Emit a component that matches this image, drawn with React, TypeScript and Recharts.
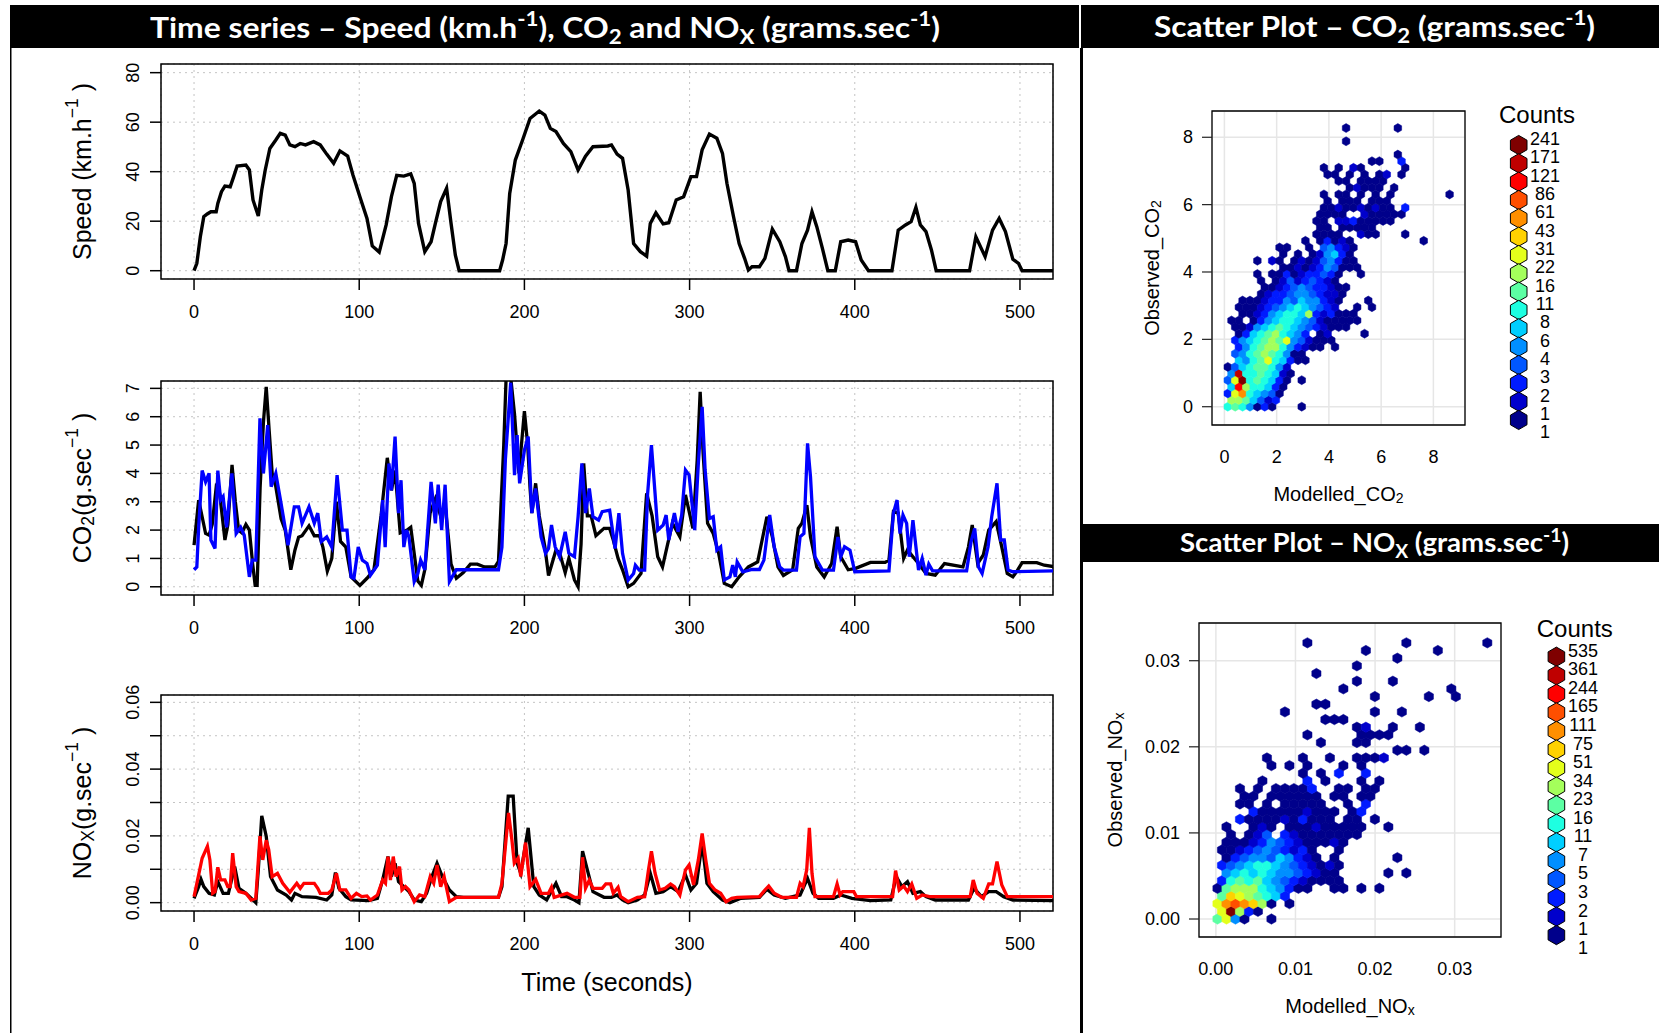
import React from 'react';
import {
  LineChart,
  Line,
  XAxis,
  YAxis,
  CartesianGrid,
  ReferenceArea,
  ScatterChart,
  Scatter,
  Legend,
} from 'recharts';

const FONT = '"Liberation Sans", Arial, Helvetica, sans-serif';
const TITLE_FONT = 'Lato, "Open Sans", sans-serif';

const PAGE_W = 1659;
const PAGE_H = 1033;
const PANEL_W = 1080;
const TS_LEFT = 161;
const TS_RIGHT = 1053;
const YAXIS_W = 60;
const XAXIS_H = 50;
const TIME_DOMAIN: [number, number] = [-20, 520];

// ---- time series axes ----
const timeTicks = [0, 100, 200, 300, 400, 500];
const speedTicks = [0, 20, 40, 60, 80];
const co2Ticks = [0, 1, 2, 3, 4, 5, 6, 7];
const noxTicks = [0, 0.01, 0.02, 0.03, 0.04, 0.05, 0.06];
const noxLabelled = [0, 0.02, 0.04, 0.06];

// [time (s), speed (km/h)]
const speed: [number, number][] = [
  [0, 0], [1.7, 3], [3.8, 13.7], [5.9, 21.8], [8, 22.9], [10.2, 23.8], [13.4, 23.8], [14.4, 27.2],
  [16.6, 31.9], [18.7, 34.2], [21.9, 33.9], [24, 38], [26.1, 42.3], [31.4, 42.7], [33.5, 40.7],
  [35.7, 28.6], [38.9, 22.1], [41, 32.6], [43.1, 40.7], [45.9, 49.4], [49.5, 52.8], [52.2, 55.5],
  [55.2, 54.8], [58, 50.8], [61.1, 50.1], [64.3, 51.4], [67.5, 50.8], [72.4, 52.1], [76.4, 50.8],
  [80.3, 47.1], [84.5, 43.4], [88.3, 48.4], [93, 46.3], [96.2, 38.7], [100.4, 29.9], [104.7, 21.1],
  [107.9, 10], [112.1, 7.5], [116.3, 18.5], [119.5, 29.9], [122.7, 38.5], [127, 38.2], [131.2, 39.1],
  [133.3, 35.3], [135.9, 19.1], [139.7, 7.7], [143.5, 11.7], [146.1, 19.1], [149.3, 27.9],
  [152.9, 33.3], [155.6, 19.1], [158.2, 6.3], [160.5, 0], [185, 0], [186.8, 4.3], [188.9, 11],
  [191.1, 31.2], [194.5, 44.7], [198.9, 52.8], [203.4, 61.5], [209, 64.5], [212.4, 62.9],
  [215.7, 57.5], [219.1, 56.2], [223.6, 51.4], [228.1, 48.1], [232.5, 40.7], [237, 46.3],
  [241.5, 50.1], [250.5, 50.4], [252.7, 50.8], [256.1, 47.1], [259.4, 45.4], [262.8, 32.6],
  [266.1, 11], [270.2, 7.7], [274, 5.9], [276.2, 19.1], [279.6, 23.4], [284, 18.9], [287.4, 19.4],
  [291.9, 28.6], [296.4, 29.9], [300.8, 38], [304.2, 38], [307.6, 48.8], [312, 55.2], [316.5, 53.5],
  [319.9, 47.4], [322.6, 35.3], [326.6, 21.8], [330, 11], [333.3, 5], [335.6, 0.3], [337.8, 1.6],
  [342.3, 1.6], [345.6, 5], [350.1, 16.8], [354.6, 11.7], [358, 5.7], [360.2, 0], [364.7, 0],
  [368, 11], [371.4, 16.4], [374.1, 23.8], [377, 17.8], [380.4, 9], [383.7, 0], [388.2, 0],
  [391.5, 11.7], [396, 12.4], [400.5, 11.7], [403.9, 4.3], [408.3, 0], [422.5, 0], [426.3, 16.4],
  [430.7, 18.5], [434.1, 19.8], [437, 25.6], [439.7, 18.5], [443.1, 15.8], [446.4, 8.4],
  [449.3, 0], [469.5, 0], [473.3, 13.7], [478.9, 5.7], [483.4, 16.4], [487.4, 21.1], [491.2, 15.8],
  [495.7, 4.6], [499.1, 3], [501.3, 0], [522, 0],
];

// [time (s), CO2 g/s] observed (black)
const co2Observed: [number, number][] = [
  [0, 1.47], [2.8, 3.06], [4.9, 2.47], [7, 1.88], [9.1, 1.82], [11, 2.2], [13.4, 3.5], [15.5, 3.3],
  [18.7, 1.65], [20.5, 2.2], [23, 4.3], [25, 3.0], [27, 2.0], [29, 1.9], [31.4, 2.2], [33.5, 2.0],
  [35.5, 0.8], [37, 0.05], [38.2, 0.05], [40, 3.5], [42, 5.8], [43.7, 7.05], [45.5, 5.5],
  [47.3, 4.0], [49.3, 3.6], [52.7, 2.4], [55.2, 2.0], [58.6, 0.6], [61.1, 1.3], [63.3, 1.75],
  [65.4, 1.8], [69.6, 2.15], [72.8, 1.8], [76, 1.8], [78, 1.4], [80.7, 0.55], [83.4, 1.0],
  [86.2, 3.0], [88.7, 1.6], [91.9, 1.4], [95.1, 0.35], [100.4, 0.05], [104.7, 0.3], [108.9, 0.6],
  [113.2, 2.5], [117, 4.55], [119.5, 3.4], [121.7, 4.1], [124.8, 1.9], [129, 2.0], [131.2, 2.1],
  [135.5, 0.2], [137.6, 0.05], [139.7, 0.6], [142.9, 2.6], [146.1, 3.1], [149.3, 2.5], [152, 2.9],
  [155.6, 0.8], [158.8, 0.3], [163, 0.5], [167.3, 0.8], [171.5, 0.8], [175.8, 0.7], [182.2, 0.7],
  [184.3, 0.9], [187.5, 5.0], [189, 7.5], [191.5, 7.5], [194, 6.1], [196.7, 4.0], [200, 6.2],
  [202, 5.0], [203.4, 3.5], [204.5, 2.6], [206.8, 3.65], [209, 2.5], [212.4, 1.4], [214.6, 0.4],
  [219.1, 1.3], [221.3, 1.2], [224.7, 0.5], [226.9, 1.0], [230.3, 0.24], [232.5, 0],
  [234.3, 1.5], [235.9, 4.35], [238.1, 2.5], [240.4, 2.5], [243.3, 1.8], [248.2, 2.06],
  [251.6, 2.06], [253.8, 1.65], [256.7, 1.0], [259.4, 0.6], [262.8, 0], [266.1, 0.12],
  [270.6, 0.47], [274, 3.3], [277.3, 2.5], [280.7, 1.06], [283.6, 0.7], [286.3, 1.4],
  [289.6, 2.24], [294.1, 1.76], [297.5, 3.24], [302, 2.06], [304.6, 4.47], [306.4, 6.88],
  [308.2, 4.7], [310.9, 2.24], [314.3, 1.88], [317.6, 1.18], [321, 0.12], [325.5, 0], [330, 0.35],
  [335.6, 0.7], [341.2, 0.88], [346.8, 2.47], [350.1, 1.76], [353.5, 0.7], [356.8, 0.4],
  [362.4, 0.6], [365.8, 2.06], [368, 2.24], [371, 2.88], [373.2, 1.76], [377, 0.7], [381.5, 0.35],
  [386, 0.82], [389.3, 2.12], [391.5, 1.06], [396, 0.6], [400.5, 0.65], [409.5, 0.86],
  [418.4, 0.86], [420.7, 0.94], [423.4, 2.65], [426.3, 2.6], [429.6, 1.0], [431.9, 1.3],
  [435.2, 1.06], [438.6, 0.82], [443.1, 0.47], [448.7, 0.41], [454.3, 0.82], [465.5, 0.7],
  [468.8, 1.4], [471.1, 2.18], [474.4, 0.82], [477.8, 1.12], [481.1, 2.0], [485.6, 2.3],
  [489, 1.4], [492.3, 0.47], [495.7, 0.35], [497.9, 0.53], [501.3, 0.85], [510.2, 0.85],
  [514.7, 0.76], [522, 0.7],
];

// [time (s), CO2 g/s] modelled (blue)
const co2Modelled: [number, number][] = [
  [0, 0.6], [1.7, 0.7], [2.8, 2.1], [4.9, 4.1], [7, 3.7], [9.1, 4.0], [10.2, 1.65], [12.7, 1.35],
  [14.4, 4.1], [16.1, 3.06], [17.6, 3.18], [19.7, 2.1], [22.9, 4.0], [25.5, 1.88], [28.2, 2.1],
  [30.4, 1.82], [33.5, 0.35], [35.2, 0.94], [37.4, 0.94], [39.9, 5.94], [42, 4.0], [44.6, 5.7],
  [46.7, 3.53], [49.5, 4.0], [52.7, 2.94], [56.9, 1.47], [60.7, 2.82], [63.3, 2.82], [65.4, 2.24],
  [69.6, 2.82], [72.8, 2.24], [74.9, 2.6], [77.1, 1.6], [80.3, 1.76], [83.4, 1.4], [86.6, 3.94],
  [89.8, 2.0], [92.6, 2.0], [95.1, 0.35], [96.8, 0.3], [99.4, 1.4], [101.9, 0.94], [104.7, 0.82],
  [106.8, 0.41], [111, 0.76], [114.2, 3.06], [115.7, 1.4], [118, 4.35], [119.5, 3.4], [121.7, 5.3],
  [123.8, 2.6], [125.3, 3.76], [127, 1.4], [128.7, 2.0], [130.1, 1.76], [133.3, 0.18],
  [135.5, 0.47], [137.2, 0.94], [139.7, 0.6], [143.5, 3.7], [146.1, 2.24], [147.8, 3.6],
  [149.9, 2.0], [152, 3.6], [154.6, 0.18], [158.8, 0.6], [165.2, 0.6], [184.3, 0.6], [186.4, 1.4],
  [188.5, 4.5], [191.7, 7.2], [194, 3.94], [195.6, 5.35], [197.1, 3.65], [200, 4.82], [202.3, 5.3],
  [204.5, 2.6], [206.8, 3.47], [210.1, 1.76], [212.8, 1.18], [214.6, 1.35], [216.4, 2.18],
  [218.6, 1.41], [221.3, 1.06], [224.7, 1.94], [226.9, 1.18], [230.3, 1.06], [232.5, 2.47],
  [234.8, 4.35], [237, 2.6], [239.3, 3.47], [241.5, 2.47], [244.9, 2.35], [247.1, 2.65],
  [251.6, 2.7], [254.9, 1.35], [257.2, 2.6], [259.4, 1.18], [262.8, 0.24], [266.1, 0.47],
  [267.2, 0.76], [269.5, 0.59], [272.8, 0.59], [274.6, 3.29], [276.9, 5.0], [279.1, 3.29],
  [280.7, 2.0], [284, 2.18], [285.8, 2.53], [287.4, 1.65], [290.8, 2.6], [293, 1.94],
  [295.2, 2.53], [297.5, 4.12], [299.7, 3.94], [303.1, 2.0], [305.3, 4.35], [307.6, 6.35],
  [309.4, 4.12], [312, 2.41], [314.3, 2.47], [316.5, 1.29], [318.8, 1.41], [321, 0.24],
  [324.4, 0.35], [326.1, 0.76], [327.7, 0.35], [328.8, 0.88], [332.2, 0.53], [337.8, 0.61],
  [342.3, 0.61], [345, 0.94], [348.5, 2.53], [351.2, 1.41], [354.6, 0.7], [356.8, 0.59],
  [364.7, 0.59], [366.9, 1.76], [369.2, 1.88], [371.4, 5.06], [373.2, 3.88], [375.9, 1.06],
  [380.4, 0.59], [387.1, 0.59], [389.8, 1.76], [391.5, 1.06], [393.8, 1.41], [397.1, 1.29],
  [400, 0.53], [420.7, 0.56], [423.4, 2.6], [425.6, 3.06], [427.4, 1.88], [429.2, 2.53],
  [431.4, 2.24], [433, 1.06], [435.2, 2.35], [438.6, 0.59], [440.8, 1.0], [443.1, 0.41],
  [444.8, 0.8], [447.1, 0.56], [467.7, 0.56], [470.4, 1.59], [472.6, 2.06], [474.9, 0.7],
  [477.1, 0.47], [480.7, 1.41], [482.9, 2.47], [486.1, 3.65], [488.3, 1.65], [490.5, 1.65],
  [492.8, 0.59], [495.7, 0.53], [522, 0.56],
];

// [time (s), NOx g/s] observed (black)
const noxObserved: [number, number][] = [
  [0, 0.0013], [2.8, 0.0048], [4.2, 0.007], [5.9, 0.0048], [9.1, 0.0028], [12.3, 0.0023],
  [14.4, 0.0063], [17.6, 0.0028], [20.8, 0.0028], [24.6, 0.0108], [27.2, 0.0043], [31.4, 0.0028],
  [35.7, 0.0008], [37.4, 0], [38.9, 0.0098], [41, 0.026], [43.7, 0.0199], [46.3, 0.0078],
  [50.5, 0.0038], [55.8, 0.0023], [59, 0.0008], [61.1, 0.0028], [65.4, 0.0018], [73.9, 0.0016],
  [80.3, 0.0008], [83.4, 0.0023], [85.6, 0.009], [87.7, 0.0043], [91.9, 0.0018], [95.1, 0.0008],
  [105.7, 0.0006], [111, 0.0013], [114.2, 0.0068], [117.4, 0.0138], [119.5, 0.0078],
  [121.7, 0.0118], [123.8, 0.0063], [127, 0.0048], [130.1, 0.0033], [133.3, 0.0008],
  [137.6, 0.0003], [140.8, 0.0028], [144, 0.0078], [147.1, 0.0118], [150.3, 0.0078],
  [154.6, 0.0038], [158.8, 0.0018], [163.1, 0.0016], [184.3, 0.0016], [186.4, 0.0048],
  [190.2, 0.0319], [193.2, 0.0319], [195.6, 0.0118], [197.8, 0.0088], [202.3, 0.0224],
  [205.7, 0.0048], [209, 0.0023], [213.5, 0.0008], [215.7, 0.0028], [219.1, 0.0058],
  [222.5, 0.0018], [225.8, 0.0018], [230.3, 0.0008], [233, 0], [235.2, 0.0154], [238.1, 0.0098],
  [241.5, 0.0033], [248.2, 0.0016], [252.7, 0.0016], [256.1, 0.0023], [259.4, 0.0008],
  [262.8, 0], [268.4, 0.0008], [272.8, 0.0023], [276.2, 0.0088], [279.6, 0.0028], [284, 0.0033],
  [288.5, 0.0048], [293, 0.0033], [297.5, 0.0083], [300.8, 0.0038], [304.2, 0.0058],
  [307.6, 0.0179], [310.5, 0.0058], [314.3, 0.0033], [319.9, 0.0008], [324.4, 0],
  [331.1, 0.0013], [342.3, 0.0016], [346.8, 0.004], [351.2, 0.0023], [358, 0.0013],
  [366.9, 0.0023], [371.4, 0.0073], [374.7, 0.0028], [378.1, 0.0013], [387.1, 0.0013],
  [391.5, 0.0023], [398.3, 0.0013], [409.5, 0.0006], [421.8, 0.0008], [425.1, 0.0078],
  [428.5, 0.0048], [431.9, 0.0063], [435.2, 0.0028], [439.7, 0.0033], [443.1, 0.0018],
  [448.7, 0.0008], [468.8, 0.0008], [472.2, 0.0043], [476.7, 0.0018], [481.1, 0.0033],
  [485.6, 0.0033], [490.1, 0.0018], [495.7, 0.0008], [522, 0.0006],
];

// [time (s), NOx g/s] modelled (red)
const noxModelled: [number, number][] = [
  [0, 0.0018], [2.8, 0.0083], [4.9, 0.0133], [8.1, 0.0169], [9.6, 0.0128], [11.3, 0.0028],
  [12.7, 0.0033], [14.4, 0.0106], [16.1, 0.0068], [18.7, 0.0068], [20.4, 0.0048], [21.9, 0.0048],
  [23.4, 0.0148], [25.5, 0.0048], [27.2, 0.0033], [31.4, 0.0028], [34.6, 0.0008], [37.4, 0.0013],
  [39.9, 0.0199], [41.6, 0.0128], [43.7, 0.0187], [45.2, 0.0159], [47.3, 0.0078], [50.5, 0.0088],
  [53.7, 0.0058], [58, 0.0031], [62.2, 0.0058], [64.3, 0.0043], [66.5, 0.0058], [72.8, 0.0058],
  [74.9, 0.0043], [76.4, 0.0028], [81.3, 0.0028], [83.4, 0.0038], [86.2, 0.0088], [88.3, 0.0038],
  [91.9, 0.0038], [95.1, 0.0013], [98.3, 0.0028], [101.5, 0.0018], [104.7, 0.002],
  [106.8, 0.0008], [111, 0.0023], [114.2, 0.0068], [115.9, 0.0058], [117.4, 0.0138],
  [118.9, 0.0068], [120.6, 0.0138], [122.3, 0.0078], [124.4, 0.0108], [125.9, 0.0038],
  [128, 0.0048], [130.1, 0.0038], [133.3, 0.0003], [136.5, 0.0023], [139.7, 0.0018],
  [143, 0.0078], [145.1, 0.0058], [147.1, 0.0113], [149.3, 0.0048], [151.4, 0.0078],
  [154.6, 0.0003], [158.8, 0.0016], [184.3, 0.0016], [186.4, 0.0058], [190.4, 0.0269],
  [192.4, 0.0189], [193.9, 0.0118], [196.2, 0.0133], [197.8, 0.0078], [200.7, 0.018],
  [203.4, 0.0048], [206.8, 0.007], [210.1, 0.0028], [214.6, 0.0028], [216.4, 0.0046],
  [218, 0.0016], [225.8, 0.0028], [230.3, 0.0016], [233.6, 0.0016], [235.2, 0.0136],
  [237, 0.0043], [239.3, 0.0068], [241.5, 0.0043], [247.1, 0.0043], [249.3, 0.0056],
  [252.2, 0.0056], [253.8, 0.0028], [256.7, 0.0046], [258.3, 0.0018], [262.8, 0.0003],
  [268.4, 0.0016], [272.8, 0.0018], [275.1, 0.0098], [276.9, 0.0154], [279.1, 0.0088],
  [281.8, 0.0038], [285.2, 0.0043], [288.5, 0.0056], [290.8, 0.0048], [294.1, 0.0023],
  [297.5, 0.0098], [299.7, 0.0113], [302.4, 0.0053], [305.3, 0.0128], [307.6, 0.0207],
  [309.8, 0.0128], [312, 0.0058], [315.4, 0.0038], [318.8, 0.0028], [322.1, 0.0003],
  [325.5, 0.0013], [328.8, 0.0016], [342.3, 0.0018], [345.6, 0.0038], [347.9, 0.005],
  [351.2, 0.0028], [355.7, 0.0016], [364.7, 0.0016], [366.9, 0.0058], [368.7, 0.0048],
  [370.9, 0.0098], [372.5, 0.0224], [374.1, 0.0088], [375.9, 0.0018], [387.1, 0.0018],
  [389.3, 0.0056], [391.1, 0.0023], [392.7, 0.0033], [399.4, 0.0033], [401, 0.0018],
  [422.9, 0.0018], [424.7, 0.0096], [426.9, 0.0038], [429.6, 0.005], [431.9, 0.0033],
  [434.5, 0.0056], [437.5, 0.0013], [440.8, 0.0023], [445.3, 0.0018], [469.9, 0.0018],
  [471.7, 0.0068], [474, 0.0028], [477.8, 0.0013], [481.1, 0.0056], [483.4, 0.0056],
  [486.1, 0.0123], [489, 0.0053], [492.3, 0.0018], [522, 0.0018],
];

// ---- hexbin scatter plots ----
// legend boundaries, top to bottom
const co2CountLabels = [241, 171, 121, 86, 61, 43, 31, 22, 16, 11, 8, 6, 4, 3, 2, 1, 1];
const noxCountLabels = [535, 361, 244, 165, 111, 75, 51, 34, 23, 16, 11, 7, 5, 3, 2, 1, 1];
const hexColors = [
  '#7f0000', '#bf0000', '#ff0000', '#ff4f00', '#ff8f00', '#ffd200', '#e4ff1b', '#a4ff5b',
  '#5cffa3', '#1effe1', '#00cfff', '#008fff', '#0057ff', '#001bff', '#0000cc', '#00008b',
];

const co2AxisTicks = [0, 2, 4, 6, 8];
const noxAxisTicks = [0, 0.01, 0.02, 0.03];

// hex grid: [row, first column, counts...] (odd rows shifted by half a column)
const co2HexRows: number[][] = [
  [0, 0, 11, 16, 11, 6, 1, 3, 1, 0, 0, 0, 1],
  [1, 0, 22, 22, 16, 8, 4, 2, 3],
  [2, 0, 3, 31, 61, 11, 8, 6, 4, 1],
  [3, 0, 8, 121, 22, 11, 11, 8, 3, 1],
  [4, 0, 4, 31, 241, 11, 16, 11, 8, 3, 1, 0, 1],
  [5, 0, 6, 171, 11, 11, 16, 11, 8, 2, 1],
  [6, 0, 1, 4, 8, 11, 16, 16, 11, 6, 2],
  [7, 0, 0, 8, 6, 11, 16, 31, 11, 8, 3, 1, 1],
  [8, 0, 0, 4, 6, 11, 16, 22, 16, 11, 6, 1, 1],
  [9, 0, 0, 3, 6, 11, 16, 22, 22, 11, 6, 3, 2, 1, 1, 0, 1],
  [10, 0, 0, 3, 6, 8, 11, 16, 22, 16, 31, 6, 4, 2, 1, 1, 1],
  [11, 0, 0, 1, 3, 8, 11, 16, 22, 11, 8, 6, 3, 0, 1, 2, 0, 0, 0, 0, 1],
  [12, 0, 0, 1, 1, 2, 6, 8, 11, 16, 11, 8, 6, 4, 3, 2, 1, 1, 1],
  [13, 0, 1, 1, 0, 1, 3, 6, 8, 11, 11, 8, 6, 4, 2, 1, 1, 1, 1, 1],
  [14, 0, 0, 0, 1, 1, 2, 3, 6, 8, 11, 11, 8, 22, 3, 2, 3, 1, 1, 1],
  [15, 0, 0, 1, 1, 1, 2, 3, 4, 6, 8, 11, 8, 6, 4, 3, 2, 0, 0, 1, 0, 1],
  [16, 0, 0, 0, 1, 1, 1, 2, 3, 3, 6, 4, 8, 6, 6, 3, 2, 1, 0, 0, 0, 1],
  [17, 4, 1, 2, 3, 3, 4, 6, 6, 4, 3, 2, 2, 1],
  [18, 5, 1, 1, 2, 3, 4, 6, 4, 3, 3, 2, 1, 1],
  [19, 4, 1, 0, 1, 2, 4, 2, 3, 4, 3, 2, 1],
  [20, 4, 1, 0, 1, 1, 3, 1, 2, 3, 3, 4, 3, 1, 0, 0, 1],
  [21, 7, 1, 1, 2, 1, 2, 3, 6, 4, 1, 1, 1],
  [22, 4, 1, 0, 2, 1, 0, 1, 2, 1, 2, 4, 6, 3, 1, 1],
  [23, 7, 1, 0, 1, 0, 1, 2, 6, 8, 3, 1],
  [24, 7, 1, 1, 0, 0, 1, 0, 4, 6, 3, 2, 1],
  [25, 10, 1, 0, 1, 3, 1, 2, 1],
  [25, 26, 1],
  [26, 12, 1, 1, 1, 1, 0, 0, 2, 1, 1],
  [26, 24, 1],
  [27, 12, 1, 1, 0, 1, 1, 1, 1, 1],
  [28, 12, 1, 1, 0, 2, 2, 3, 1, 1, 1, 1, 1],
  [29, 12, 1, 1, 1, 1, 0, 0, 2, 1, 1, 1, 1, 1],
  [30, 13, 1, 1, 2, 1, 1, 2, 1, 2, 1, 1, 0, 3],
  [31, 13, 1, 0, 1, 1, 1, 0, 1, 1, 1],
  [32, 13, 1, 0, 1, 1, 0, 1, 0, 1, 0, 1],
  [32, 30, 1],
  [33, 16, 1, 2, 1, 1, 1, 0, 1],
  [34, 15, 1, 1, 0, 1, 1, 1, 1],
  [35, 13, 1, 1, 0, 1, 0, 1, 0, 1, 2, 0, 1],
  [36, 13, 1, 0, 1, 0, 2, 1, 0, 0, 0, 0, 0, 1],
  [37, 19, 1, 1, 0, 0, 3],
  [38, 23, 1],
  [40, 16, 1],
  [42, 16, 1],
  [42, 23, 1],
];

const noxHexRows: number[][] = [
  [0, 0, 23, 51, 7, 1, 0, 0, 1],
  [1, 0, 51, 535, 34, 3, 1],
  [2, 0, 51, 111, 165, 111, 75, 34, 1, 0, 1],
  [3, 0, 23, 75, 51, 34, 23, 16, 11, 3],
  [4, 0, 1, 23, 34, 34, 34, 16, 11, 7, 3, 1, 1, 0, 0, 1, 1, 0, 1, 0, 1],
  [5, 0, 3, 16, 23, 16, 23, 11, 7, 5, 3, 2, 1, 1, 1, 1],
  [6, 0, 0, 7, 11, 16, 11, 16, 11, 7, 7, 5, 3, 2, 1, 1, 0, 0, 0, 0, 0, 1, 0, 1],
  [7, 0, 3, 5, 7, 11, 16, 16, 11, 7, 5, 3, 2, 1, 2, 1],
  [8, 0, 0, 1, 3, 5, 7, 7, 5, 11, 7, 3, 2, 1, 0, 1, 0, 0, 0, 0, 0, 0, 1],
  [9, 0, 1, 1, 2, 3, 5, 7, 5, 3, 2, 3, 1, 0, 0, 1],
  [10, 1, 1, 1, 1, 2, 3, 7, 5, 3, 2, 1, 1, 1, 2, 1],
  [11, 0, 0, 1, 0, 1, 2, 5, 0, 3, 2, 1, 1, 1, 1, 1, 1, 1],
  [12, 1, 1, 0, 0, 1, 2, 1, 0, 1, 1, 1, 2, 1, 1, 1, 1, 1, 0, 0, 1],
  [13, 2, 3, 1, 1, 1, 1, 2, 1, 3, 1, 1, 1, 0, 1, 1, 0, 1],
  [14, 4, 3, 1, 1, 1, 1, 1, 2, 1, 1, 1, 0, 1, 3],
  [15, 2, 1, 1, 0, 1, 0, 1, 1, 1, 1, 1, 0, 0, 1, 0, 3],
  [16, 3, 1, 1, 0, 1, 1, 1, 1, 1, 1, 0, 1, 1, 0, 1, 1],
  [17, 2, 1, 0, 1, 0, 1, 1, 1, 1, 3, 0, 0, 1, 1, 0, 1, 1],
  [18, 5, 1, 0, 0, 0, 0, 3, 0, 1, 0, 0, 0, 1, 0, 1],
  [19, 9, 1, 0, 1, 0, 3, 0, 0, 3],
  [20, 6, 1, 0, 1, 0, 1, 0, 0, 0, 1, 0, 1],
  [21, 5, 1, 0, 0, 0, 1, 0, 0, 1, 0, 0, 1, 1, 1, 2],
  [22, 20, 1, 1, 0, 1],
  [23, 11, 1, 0, 0, 0, 1, 1],
  [24, 10, 1, 0, 0, 0, 0, 0, 1, 1, 1, 1],
  [25, 15, 1, 2, 0, 0, 1, 0, 0, 1],
  [26, 12, 1, 1, 1],
  [27, 7, 1],
  [27, 17, 1, 0, 0, 1],
  [28, 11, 1, 1],
  [29, 17, 1],
  [29, 23, 1],
  [29, 26, 1],
  [30, 14, 1],
  [30, 26, 1],
  [31, 15, 1, 0, 0, 0, 1],
  [32, 11, 1],
  [33, 15, 1],
  [34, 20, 1],
  [35, 16, 1],
  [35, 24, 1],
  [36, 10, 1],
  [36, 21, 1],
  [36, 30, 1],
];

const toPoints = (rows: [number, number][]) => rows.map(([t, v]) => ({ t, v }));

function colorFor(count: number, labels: number[]) {
  let k = 0;
  labels.forEach((l, i) => {
    if (l >= count) k = i;
  });
  return hexColors[Math.min(k, hexColors.length - 1)];
}

function buildCells(rows: number[][], x0: number, dx: number, dy: number, labels: number[]) {
  const out: { x: number; y: number; count: number; fill: string }[] = [];
  rows.forEach(([row, start, ...counts]) => {
    counts.forEach((c, k) => {
      if (c > 0) {
        out.push({
          x: x0 + dx * (start + k + (row % 2) * 0.5),
          y: dy * row,
          count: c,
          fill: colorFor(c, labels),
        });
      }
    });
  });
  return out;
}

type Part = { t: string; s?: 'sup' | 'sub' };

function MathSpans({ parts, size }: { parts: Part[]; size: number }) {
  let shift = 0;
  return (
    <>
      {parts.map((p, i) => {
        const target = p.s === 'sup' ? -size * 0.4 : p.s === 'sub' ? size * 0.22 : 0;
        const dy = target - shift;
        shift = target;
        return (
          <tspan key={i} dy={dy} fontSize={p.s ? size * 0.7 : size}>
            {p.t}
          </tspan>
        );
      })}
    </>
  );
}

function RotatedTitle({ cx, cy, size, parts }: { cx: number; cy: number; size: number; parts: Part[] }) {
  return (
    <text
      transform={`translate(${cx},${cy}) rotate(-90)`}
      textAnchor="middle"
      dominantBaseline="central"
      fontFamily={FONT}
      fontSize={size}
      fill="#000"
    >
      <MathSpans parts={parts} size={size} />
    </text>
  );
}

// ---------------- time series panel (base R style) ----------------
type Series = { data: [number, number][]; color: string; width: number };

function TimePanel(props: {
  top: number;
  height: number;
  plotTop: number;
  plotBottom: number;
  yDomain: [number, number];
  yTicks: number[];
  yFormat: (v: number) => string;
  series: Series[];
  yTitle: Part[];
  xTitle?: string;
}) {
  const { top, height, plotTop, plotBottom, yDomain, yTicks, yFormat, series, yTitle, xTitle } = props;
  const margin = {
    top: plotTop - top,
    bottom: top + height - plotBottom - XAXIS_H,
    left: TS_LEFT - YAXIS_W,
    right: PANEL_W - TS_RIGHT,
  };
  const midY = (plotTop + plotBottom) / 2 - top;

  const xTick = (p: any) => (
    <text x={p.x} y={p.y + 20} textAnchor="middle" dominantBaseline="central" fontFamily={FONT} fontSize={18} fill="#000">
      {p.payload.value}
    </text>
  );
  const yTick = (p: any) => {
    const s = yFormat(p.payload.value);
    if (!s) return <g />;
    return (
      <text
        transform={`translate(${p.x - 15},${p.y}) rotate(-90)`}
        textAnchor="middle"
        dominantBaseline="central"
        fontFamily={FONT}
        fontSize={18}
        fill="#000"
      >
        {s}
      </text>
    );
  };

  return (
    <div style={{ position: 'absolute', left: 0, top, width: PANEL_W, height }}>
      <LineChart width={PANEL_W} height={height} margin={margin}>
        <CartesianGrid stroke="#c4c4c4" strokeDasharray="2 4" />
        <XAxis
          type="number"
          dataKey="t"
          domain={TIME_DOMAIN}
          ticks={timeTicks}
          interval={0}
          allowDataOverflow
          axisLine={false}
          tickLine={{ stroke: '#000', strokeWidth: 1.5 }}
          tickSize={11}
          tickMargin={2}
          height={XAXIS_H}
          tick={xTick}
          label={
            xTitle
              ? () => (
                  <text
                    x={(TS_LEFT + TS_RIGHT) / 2}
                    y={plotBottom - top + 71}
                    textAnchor="middle"
                    dominantBaseline="central"
                    fontFamily={FONT}
                    fontSize={25}
                    fill="#000"
                  >
                    {xTitle}
                  </text>
                )
              : undefined
          }
        />
        <YAxis
          type="number"
          domain={yDomain}
          ticks={yTicks}
          interval={0}
          allowDataOverflow
          axisLine={false}
          tickLine={{ stroke: '#000', strokeWidth: 1.5 }}
          tickSize={11}
          tickMargin={2}
          width={YAXIS_W}
          tick={yTick}
          label={() => <RotatedTitle cx={TS_LEFT - 79} cy={midY} size={25} parts={yTitle} />}
        />
        {series.map((s, i) => (
          <Line
            key={i}
            data={toPoints(s.data)}
            dataKey="v"
            type="linear"
            stroke={s.color}
            strokeWidth={s.width}
            dot={false}
            activeDot={false}
            isAnimationActive={false}
          />
        ))}
        <ReferenceArea
          x1={TIME_DOMAIN[0]}
          x2={TIME_DOMAIN[1]}
          y1={yDomain[0]}
          y2={yDomain[1]}
          fill="none"
          stroke="#000"
          strokeWidth={1.5}
        />
      </LineChart>
    </div>
  );
}

// ---------------- hexbin panel (lattice style) ----------------
function HexLegend(props: {
  labels: number[];
  hexX: number;
  hexY0: number;
  step: number;
  labelX: number;
  countsX: number;
  countsY: number;
}) {
  const { labels, hexX, hexY0, step, labelX, countsX, countsY } = props;
  const r = 9.6;
  const hw = 8.3;
  return (
    <svg width={110} height={350} style={{ display: 'block', overflow: 'visible' }}>
      <text x={countsX} y={countsY} textAnchor="middle" dominantBaseline="central" fontFamily={FONT} fontSize={24} fill="#000">
        Counts
      </text>
      {hexColors.map((c, k) => {
        const cy = hexY0 + k * step;
        const pts = [
          [0, -r], [hw, -r / 2], [hw, r / 2], [0, r], [-hw, r / 2], [-hw, -r / 2],
        ].map(([a, b]) => `${hexX + a},${cy + b}`).join(' ');
        return <polygon key={k} points={pts} fill={c} stroke="#000" strokeWidth={1} />;
      })}
      {labels.map((l, k) => (
        <text
          key={k}
          x={labelX}
          y={hexY0 + k * step - 6}
          textAnchor="middle"
          dominantBaseline="central"
          fontFamily={FONT}
          fontSize={18}
          fill="#000"
        >
          {l}
        </text>
      ))}
    </svg>
  );
}

function HexPanel(props: {
  top: number;
  height: number;
  box: { x1: number; x2: number; y1: number; y2: number };
  yAxisW: number;
  xDomain: [number, number];
  yDomain: [number, number];
  ticks: number[];
  fmt: (v: number) => string;
  cells: { x: number; y: number; count: number; fill: string }[];
  hw: number;
  r: number;
  xTitle: Part[];
  yTitle: Part[];
  yTitleOffset: number;
  legend: React.ReactNode;
  legendLeft: number;
  legendTop: number;
}) {
  const left = 1082;
  const width = PAGE_W - left;
  const { top, height, box, yAxisW, xDomain, yDomain, ticks, fmt, cells, hw, r } = props;
  const margin = {
    top: box.y1 - top,
    bottom: top + height - box.y2 - 40,
    left: box.x1 - left - yAxisW,
    right: PAGE_W - box.x2,
  };
  const none = () => <g />;
  const xTick = (p: any) => (
    <text x={p.x} y={p.y + 31.5} textAnchor="middle" dominantBaseline="central" fontFamily={FONT} fontSize={18} fill="#000">
      {fmt(p.payload.value)}
    </text>
  );
  const yTick = (p: any) => (
    <text x={p.x} y={p.y} textAnchor="end" dominantBaseline="central" fontFamily={FONT} fontSize={18} fill="#000">
      {fmt(p.payload.value)}
    </text>
  );
  const hexShape = (p: any) => {
    const { cx, cy, payload } = p;
    const pts = [
      [0, -r], [hw, -r / 2], [hw, r / 2], [0, r], [-hw, r / 2], [-hw, -r / 2],
    ].map(([a, b]) => `${cx + a},${cy + b}`).join(' ');
    return <polygon points={pts} fill={payload.fill} stroke={payload.fill} strokeWidth={0.5} />;
  };
  const tickLine = { stroke: '#222', strokeWidth: 1.2 };
  const boxMidX = (box.x1 + box.x2) / 2 - left;
  const boxMidY = (box.y1 + box.y2) / 2 - top;

  return (
    <div style={{ position: 'absolute', left, top, width, height }}>
      <ScatterChart width={width} height={height} margin={margin}>
        <CartesianGrid stroke="#e6e6e6" strokeWidth={1.5} />
        <XAxis
          type="number"
          dataKey="x"
          domain={xDomain}
          ticks={ticks}
          interval={0}
          allowDataOverflow
          axisLine={false}
          tickLine={false}
          tickSize={0}
          tickMargin={0}
          height={40}
          tick={xTick}
          label={() => (
            <text
              x={boxMidX}
              y={box.y2 - top + 69}
              textAnchor="middle"
              dominantBaseline="central"
              fontFamily={FONT}
              fontSize={20}
              fill="#000"
            >
              <MathSpans parts={props.xTitle} size={20} />
            </text>
          )}
        />
        <XAxis
          xAxisId="top"
          orientation="top"
          type="number"
          domain={xDomain}
          ticks={ticks}
          interval={0}
          allowDataOverflow
          axisLine={false}
          tickLine={tickLine}
          tickSize={10}
          height={0}
          tick={none}
        />
        <YAxis
          type="number"
          dataKey="y"
          domain={yDomain}
          ticks={ticks}
          interval={0}
          allowDataOverflow
          axisLine={false}
          tickLine={tickLine}
          tickSize={10}
          tickMargin={9}
          width={yAxisW}
          tick={yTick}
          label={() => (
            <RotatedTitle cx={box.x1 - left - props.yTitleOffset} cy={boxMidY} size={20} parts={props.yTitle} />
          )}
        />
        <YAxis
          yAxisId="right"
          orientation="right"
          type="number"
          domain={yDomain}
          ticks={ticks}
          interval={0}
          allowDataOverflow
          axisLine={false}
          tickLine={tickLine}
          tickSize={10}
          width={0}
          tick={none}
        />
        <Scatter data={cells} shape={hexShape} isAnimationActive={false} />
        <ReferenceArea
          x1={xDomain[0]}
          x2={xDomain[1]}
          y1={yDomain[0]}
          y2={yDomain[1]}
          fill="none"
          stroke="#000"
          strokeWidth={1.3}
        />
        <Legend
          layout="horizontal"
          align="center"
          verticalAlign="middle"
          content={() => props.legend}
          wrapperStyle={{ position: 'absolute', left: props.legendLeft, top: props.legendTop, width: 110, height: 350 }}
        />
      </ScatterChart>
    </div>
  );
}

function HeaderText({ x, y, len, size, parts }: { x: number; y: number; len: number; size: number; parts: Part[] }) {
  return (
    <text
      x={x}
      y={y}
      textLength={len}
      lengthAdjust="spacingAndGlyphs"
      fontFamily={TITLE_FONT}
      fontWeight={700}
      fontSize={size}
      fill="#fff"
    >
      <MathSpans parts={parts} size={size} />
    </text>
  );
}

export default function App() {
  const co2Cells = buildCells(co2HexRows, 0.13, 0.283, 0.197, co2CountLabels);
  const noxCells = buildCells(noxHexRows, 0.0002, 0.00113, 0.000891, noxCountLabels);

  return (
    <div style={{ position: 'absolute', left: 0, top: 0, width: PAGE_W, height: PAGE_H, background: '#fff' }}>
      <svg width={PAGE_W} height={PAGE_H} style={{ position: 'absolute', left: 0, top: 0 }}>
        <rect x={10} y={5} width={1069} height={43} fill="#000" />
        <rect x={1081} y={5} width={PAGE_W - 1081} height={43} fill="#000" />
        <rect x={1080} y={524} width={PAGE_W - 1080} height={38} fill="#000" />
        <rect x={10} y={48} width={1.5} height={PAGE_H - 48} fill="#000" />
        <rect x={1080} y={48} width={3} height={PAGE_H - 48} fill="#000" />
        <HeaderText
          x={150}
          y={37.5}
          len={790}
          size={28.5}
          parts={[
            { t: 'Time series – Speed (km.h' },
            { t: '-1', s: 'sup' },
            { t: '), CO' },
            { t: '2', s: 'sub' },
            { t: ' and NO' },
            { t: 'X', s: 'sub' },
            { t: ' (grams.sec' },
            { t: '-1', s: 'sup' },
            { t: ')' },
          ]}
        />
        <HeaderText
          x={1154}
          y={36.5}
          len={441}
          size={28.5}
          parts={[
            { t: 'Scatter Plot – CO' },
            { t: '2', s: 'sub' },
            { t: ' (grams.sec' },
            { t: '-1', s: 'sup' },
            { t: ')' },
          ]}
        />
        <HeaderText
          x={1180}
          y={552}
          len={389}
          size={26}
          parts={[
            { t: 'Scatter Plot – NO' },
            { t: 'X', s: 'sub' },
            { t: ' (grams.sec' },
            { t: '-1', s: 'sup' },
            { t: ')' },
          ]}
        />
      </svg>

      <TimePanel
        top={50}
        height={300}
        plotTop={64}
        plotBottom={279}
        yDomain={[-3.35, 83.5]}
        yTicks={speedTicks}
        yFormat={(v) => String(v)}
        series={[{ data: speed, color: '#000', width: 3.4 }]}
        yTitle={[{ t: 'Speed (km.h' }, { t: '−1', s: 'sup' }, { t: ' )' }]}
      />
      <TimePanel
        top={360}
        height={300}
        plotTop={381}
        plotBottom={595}
        yDomain={[-0.29, 7.26]}
        yTicks={co2Ticks}
        yFormat={(v) => String(v)}
        series={[
          { data: co2Observed, color: '#000', width: 3.3 },
          { data: co2Modelled, color: '#0000ff', width: 3.3 },
        ]}
        yTitle={[{ t: 'CO' }, { t: '2', s: 'sub' }, { t: '(g.sec' }, { t: '−1', s: 'sup' }, { t: ' )' }]}
      />
      <TimePanel
        top={680}
        height={353}
        plotTop={695}
        plotBottom={911}
        yDomain={[-0.0025, 0.0622]}
        yTicks={noxTicks}
        yFormat={(v) => (noxLabelled.some((l) => Math.abs(l - v) < 1e-9) ? v.toFixed(2) : '')}
        series={[
          { data: noxObserved, color: '#000', width: 3.3 },
          { data: noxModelled, color: '#ff0000', width: 3.3 },
        ]}
        yTitle={[{ t: 'NO' }, { t: 'X', s: 'sub' }, { t: '(g.sec' }, { t: '−1', s: 'sup' }, { t: ' )' }]}
        xTitle="Time (seconds)"
      />

      <HexPanel
        top={50}
        height={470}
        box={{ x1: 1212, x2: 1465, y1: 111, y2: 425 }}
        yAxisW={40}
        xDomain={[-0.475, 9.21]}
        yDomain={[-0.543, 8.78]}
        ticks={co2AxisTicks}
        fmt={(v) => String(v)}
        cells={co2Cells}
        hw={3.8}
        r={4.5}
        xTitle={[{ t: 'Modelled_CO' }, { t: '2', s: 'sub' }]}
        yTitle={[{ t: 'Observed_CO' }, { t: '2', s: 'sub' }]}
        yTitleOffset={60}
        legendLeft={1495 - 1082}
        legendTop={95 - 50}
        legend={
          <HexLegend labels={co2CountLabels} hexX={23.7} hexY0={50} step={18.33} labelX={50} countsX={42} countsY={19} />
        }
      />
      <HexPanel
        top={566}
        height={467}
        box={{ x1: 1199, x2: 1501, y1: 623, y2: 937 }}
        yAxisW={50}
        xDomain={[-0.00212, 0.03582]}
        yDomain={[-0.00209, 0.03438]}
        ticks={noxAxisTicks}
        fmt={(v) => v.toFixed(2)}
        cells={noxCells}
        hw={4.6}
        r={5.2}
        xTitle={[{ t: 'Modelled_NO' }, { t: 'x', s: 'sub' }]}
        yTitle={[{ t: 'Observed_NO' }, { t: 'x', s: 'sub' }]}
        yTitleOffset={84}
        legendLeft={1530 - 1082}
        legendTop={610 - 566}
        legend={
          <HexLegend labels={noxCountLabels} hexX={26.4} hexY0={46.7} step={18.56} labelX={53} countsX={44.8} countsY={18.3} />
        }
      />
    </div>
  );
}
